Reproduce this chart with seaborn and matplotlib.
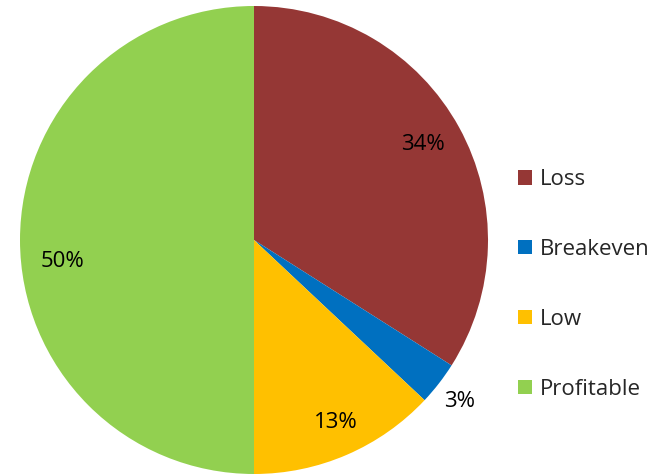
import matplotlib
matplotlib.use("Agg")
import matplotlib.pyplot as plt
from matplotlib.patches import Patch
import seaborn as sns

categories = ["Loss", "Breakeven", "Low", "Profitable"]
shares = [34, 3, 13, 50]
colors = ["#953735", "#0070C0", "#FFC000", "#92D050"]

sns.set_theme(style="white")
plt.rcParams["font.family"] = ["Open Sans", "DejaVu Sans"]

fig = plt.figure(figsize=(6.61, 4.76), dpi=100)
W, H = 661, 476
cx, cy, r = 254, 240, 234
ax = fig.add_axes([(cx - r) / W, (H - cy - r) / H, 2 * r / W, 2 * r / H])

wedges, texts, autotexts = ax.pie(
    shares, colors=colors, startangle=90, counterclock=False,
    autopct=lambda p: f"{p:.0f}%", pctdistance=0.82,
    wedgeprops=dict(linewidth=0),
    textprops=dict(fontsize=16, color="black"),
)
ax.set_aspect("equal")
ax.set_xlim(-1, 1)
ax.set_ylim(-1, 1)

# Small slice label sits outside the pie; others nudged for best fit
autotexts[0].set_position((0.72, 0.41))
autotexts[1].set_position((0.88, -0.69))
autotexts[2].set_position((0.35, -0.78))
autotexts[3].set_position((-0.82, -0.09))

handles = [Patch(facecolor=c, edgecolor="none") for c in colors]
fig.legend(handles, categories, loc="center left",
           bbox_to_anchor=(498 / W, 1 - 284.5 / H), frameon=False,
           fontsize=16, handlelength=0.62, handleheight=0.62,
           handletextpad=0.38, labelspacing=2.2)

fig.savefig("out.png", dpi=100)
